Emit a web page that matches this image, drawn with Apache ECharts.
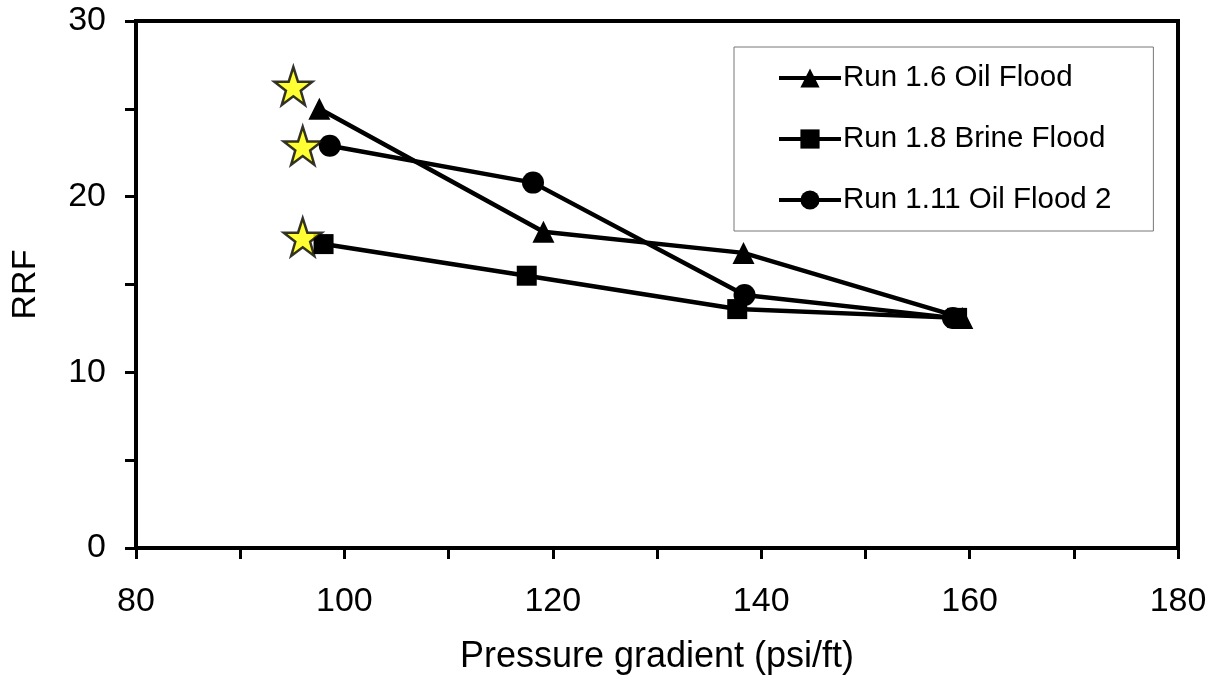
<!DOCTYPE html>
<html>
<head>
<meta charset="utf-8">
<script src="https://cdn.jsdelivr.net/npm/echarts@6/dist/echarts.min.js"></script>
<style>
  html, body { margin: 0; padding: 0; background: #fff; }
  #chart { width: 1220px; height: 681px; }
</style>
</head>
<body>
<div id="chart"></div>
<script>
// Pressure gradient (psi/ft) and RRF for each run
const run16X = [97.6, 119.1, 138.3, 159.3];
const run16Y = [25.0, 18.0, 16.8, 13.1];
const run18X = [98.0, 117.5, 137.7, 158.8];
const run18Y = [17.3, 15.5, 13.6, 13.1];
const run111X = [98.6, 118.1, 138.4, 158.4];
const run111Y = [22.9, 20.8, 14.4, 13.1];
// Starting points of each run (highlighted with stars)
const startX = [95.1, 96.0, 96.0];
const startY = [26.3, 22.9, 17.7];

const seriesNames = ['Run 1.6 Oil Flood', 'Run 1.8 Brine Flood', 'Run 1.11 Oil Flood 2'];

const pairs = (xs, ys) => xs.map((x, i) => [x, ys[i]]);

const FONT = 'Liberation Sans, Arial, sans-serif';
const STAR = 'path://M50,0 L61.8,35.1 L98.1,35.1 L68.8,56.7 L79.4,91 L50,70 L20.6,91 L31.2,56.7 L1.9,35.1 L38.2,35.1 Z';

const lineStyle = { color: '#000', width: 4.5 };
const itemStyle = { color: '#000' };

const chart = echarts.init(document.getElementById('chart'));
chart.setOption({
  animation: false,
  backgroundColor: '#fff',
  textStyle: { fontFamily: FONT, color: '#000' },
  grid: {
    left: 136, right: 42, top: 21, bottom: 133,
    show: true, borderColor: '#000', borderWidth: 4, backgroundColor: 'transparent'
  },
  legend: {
    data: seriesNames,
    orient: 'vertical',
    left: 734, top: 47,
    padding: [16, 42, 16, 43],
    itemGap: 31,
    itemWidth: 62, itemHeight: 24,
    borderColor: '#777', borderWidth: 1,
    backgroundColor: '#fff',
    lineStyle: { width: 4, color: '#000' },
    textStyle: { fontFamily: FONT, fontSize: 29.5, color: '#000', padding: [0, 0, 0, -3] }
  },
  xAxis: {
    type: 'value', min: 80, max: 180, interval: 10,
    name: 'Pressure gradient (psi/ft)', nameLocation: 'middle', nameGap: 91,
    nameTextStyle: { fontFamily: FONT, fontSize: 36, color: '#000' },
    axisLine: { show: true, lineStyle: { color: '#000', width: 4 } },
    axisTick: { show: true, inside: false, length: 11, lineStyle: { color: '#000', width: 3 } },
    axisLabel: {
      fontFamily: FONT, fontSize: 34, color: '#000', margin: 37,
      formatter: v => (v % 20 === 0 ? String(v) : '')
    },
    splitLine: { show: false }
  },
  yAxis: {
    type: 'value', min: 0, max: 30, interval: 5,
    name: 'RRF', nameLocation: 'middle', nameGap: 93,
    nameTextStyle: { fontFamily: FONT, fontSize: 34, color: '#000' },
    axisLine: { show: true, lineStyle: { color: '#000', width: 4 } },
    axisTick: { show: true, inside: false, length: 11, lineStyle: { color: '#000', width: 3 } },
    axisLabel: {
      fontFamily: FONT, fontSize: 34, color: '#000', margin: 30,
      formatter: v => (v % 10 === 0 ? String(v) : '')
    },
    splitLine: { show: false }
  },
  series: [
    {
      name: seriesNames[0], type: 'line', data: pairs(run16X, run16Y),
      symbol: 'triangle', symbolSize: 22, lineStyle, itemStyle, z: 3
    },
    {
      name: seriesNames[1], type: 'line', data: pairs(run18X, run18Y),
      symbol: 'rect', symbolSize: 20, lineStyle, itemStyle, z: 3
    },
    {
      name: seriesNames[2], type: 'line', data: pairs(run111X, run111Y),
      symbol: 'circle', symbolSize: 22, lineStyle, itemStyle, z: 3
    },
    {
      name: 'start', type: 'scatter', data: pairs(startX, startY),
      symbol: STAR, symbolSize: 38,
      itemStyle: { color: '#ffff00', borderColor: '#000', borderWidth: 2.5 }, z: 4
    }
  ]
});
</script>
</body>
</html>
